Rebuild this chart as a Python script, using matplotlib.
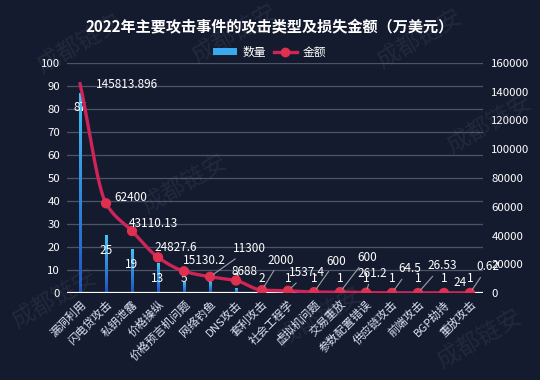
import numpy as np
import matplotlib
matplotlib.use("Agg")
import matplotlib.pyplot as plt
from matplotlib.patches import Patch
from matplotlib.lines import Line2D
from matplotlib.colors import LinearSegmentedColormap

plt.rcParams['font.family'] = ['Noto Sans CJK SC', 'DejaVu Sans']

title = "2022年主要攻击事件的攻击类型及损失金额（万美元）"
categories = ["漏洞利用", "闪电贷攻击", "私钥泄露", "价格操纵", "价格预言机问题", "网络钓鱼",
              "DNS攻击", "套利攻击", "社会工程学", "虚拟机问题", "交易重放", "参数配置错误",
              "供应链攻击", "前端攻击", "BGP劫持", "重放攻击"]
counts = [87, 25, 19, 13, 5, 5, 2, 2, 1, 1, 1, 1, 1, 1, 1, 1]
amounts = [145813.896, 62400, 43110.13, 24827.6, 15130.2, 11300, 8688, 2000, 1537.4,
           600, 600, 261.2, 64.5, 26.53, 24, 0.62]
amount_labels = ["145813.896", "62400", "43110.13", "24827.6", "15130.2", "11300", "8688",
                 "2000", "1537.4", "600", "600", "261.2", "64.5", "26.53", "24", "0.62"]
left_ticks = list(range(0, 101, 10))
right_ticks = list(range(0, 160001, 20000))

# label layout (pixel offsets from point: left edge dx, center dy up) and leader flag
lab_off = [(16, -1), (8, 6), (-3, 8), (-4, 10), (-1, 11), (23, 28), (-4, 9.5), (5, 30),
           (1, 18), (12, 31), (17, 35), (-9, 19), (6, 24), (9, 27), (9, 10), (6, 26)]
leader = [False, False, False, False, False, True, False, True,
          True, True, True, True, True, True, False, True]

BG = '#151b2e'
W, H = 540, 380
fig = plt.figure(figsize=(W / 100, H / 100), dpi=100, facecolor=BG)
ax = fig.add_axes([67 / W, 1 - 293 / H, (483 - 67) / W, (293 - 63) / H])
ax.set_facecolor(BG)
ax2 = ax.twinx()

# watermarks
wm = [(80, 45), (185, 185), (420, 40), (490, 125), (320, 318), (480, 340), (55, 300), (235, 35)]
for (wx, wy) in wm:
    fig.text(wx / W, 1 - wy / H, "成都链安", fontsize=17, color='#8890a0', alpha=0.12,
             rotation=30, ha='center', va='center', zorder=0)

x = np.arange(len(categories))

for yv in left_ticks[1:]:
    ax.axhline(yv, color='#4d5466', lw=0.9, zorder=0)

bars = ax.bar(x, counts, width=0.11, color='#2a86e0', zorder=2)
grad = np.linspace(0, 1, 256).reshape(-1, 1)
cmap = LinearSegmentedColormap.from_list('g', ['#1c52c4', '#45c4f5'])
for b in bars:
    bx, by, bw, bh = b.get_x(), b.get_y(), b.get_width(), b.get_height()
    im = ax.imshow(grad, extent=[bx, bx + bw, by, by + bh], origin='lower', cmap=cmap,
                   aspect='auto', zorder=2.5)
    im.set_clip_path(b)
ax.set_xlim(-0.5, len(categories) - 0.5)
ax.set_ylim(0, 100)
ax2.set_ylim(0, 160000)

for xi, c in zip(x, counts):
    ax.text(xi, max(c - 6.5, 6.3), str(c), color='white', fontsize=8.5, ha='center',
            va='center', zorder=5)

# smooth monotone line (PCHIP)
def pchip(xs, ys, xn):
    xs = np.asarray(xs, float); ys = np.asarray(ys, float)
    h = np.diff(xs); d = np.diff(ys) / h
    m = np.zeros_like(ys)
    for k in range(1, len(xs) - 1):
        if d[k - 1] * d[k] > 0:
            w1 = 2 * h[k] + h[k - 1]; w2 = h[k] + 2 * h[k - 1]
            m[k] = (w1 + w2) / (w1 / d[k - 1] + w2 / d[k])
    m[0] = d[0]; m[-1] = d[-1]
    out = np.empty_like(xn)
    for i, t in enumerate(xn):
        k = min(np.searchsorted(xs, t, side='right') - 1, len(xs) - 2)
        s = (t - xs[k]) / h[k]
        h00 = 2 * s**3 - 3 * s**2 + 1; h10 = s**3 - 2 * s**2 + s
        h01 = -2 * s**3 + 3 * s**2; h11 = s**3 - s**2
        out[i] = h00 * ys[k] + h10 * h[k] * m[k] + h01 * ys[k + 1] + h11 * h[k] * m[k + 1]
    return out

xn = np.linspace(0, len(categories) - 1, 600)
ax2.plot(xn, pchip(x, amounts, xn), color='#cf2457', lw=2.4, zorder=3, solid_capstyle='round')
ax2.scatter(x[1:], amounts[1:], s=55, color='#e0304f', zorder=4, edgecolors='none')

for i, (xi, a) in enumerate(zip(x, amounts)):
    dx, dy = lab_off[i]
    kw = dict(xy=(xi, a), xytext=(dx, dy), textcoords='offset pixels',
              ha='left', va='center', color='white', fontsize=8.5, zorder=6)
    if leader[i]:
        kw['arrowprops'] = dict(arrowstyle='-', color='#9aa0ab', lw=0.8, shrinkA=1, shrinkB=3)
    ax2.annotate(amount_labels[i], **kw)

for a in (ax, ax2):
    for s in ['top', 'left', 'right', 'bottom']:
        a.spines[s].set_visible(False)
ax.axhline(0, color='white', lw=1.6, zorder=3)

ax.set_yticks(left_ticks)
ax.set_yticklabels([str(v) for v in left_ticks], color='white', fontsize=8.2)
ax2.set_yticks(right_ticks)
ax2.set_yticklabels([str(v) for v in right_ticks], color='white', fontsize=8.2)
ax.tick_params(axis='y', length=0, pad=5)
ax2.tick_params(axis='y', length=0, pad=6)
ax.set_xticks(x)
ax.set_xticklabels(categories, rotation=45, ha='right', va='top', rotation_mode='anchor',
                   color='#dbe6f7', fontsize=8.2)
ax.tick_params(axis='x', length=0, pad=4)

fig.text(0.5, 1 - 27 / H, title, color='white', fontsize=10.9, fontweight='bold',
         ha='center', va='center')

handles = [Patch(facecolor='#3aa8ee', edgecolor='none'),
           Line2D([0], [0], color='#cf2457', lw=2.4, marker='o', markersize=7,
                  markerfacecolor='#e0304f', markeredgecolor='none')]
fig.legend(handles, ['数量', '金额'], loc='center', bbox_to_anchor=(0.5, 1 - 52 / H),
           ncol=2, frameon=False, fontsize=8.5, labelcolor='white',
           handlelength=2.0, handleheight=0.6, columnspacing=0.6, handletextpad=0.5)

fig.savefig('out.png', dpi=100, facecolor=BG)
